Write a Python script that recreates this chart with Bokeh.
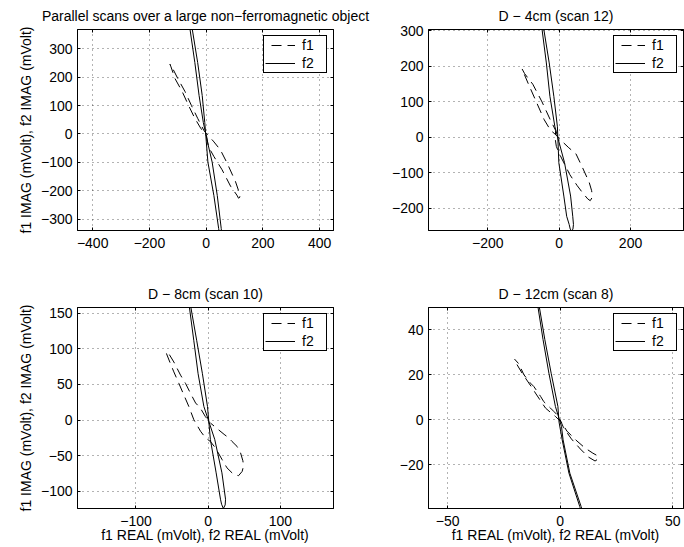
from bokeh.plotting import figure
from bokeh.layouts import row, column
from bokeh.models import (Range1d, FixedTicker, LinearAxis, CustomJSTickFormatter,
                          Legend, LegendItem)
from bokeh.embed import file_html
from bokeh.resources import INLINE

# ---------------- data ----------------
titles = ["Parallel scans over a large non\u2212ferromagnetic object",
          "D \u2212 4cm (scan 12)", "D \u2212 8cm (scan 10)", "D \u2212 12cm (scan 8)"]
x_label = "f1 REAL (mVolt), f2 REAL (mVolt)"
y_label = "f1 IMAG (mVolt), f2 IMAG (mVolt)"
series_names = ["f1", "f2"]

# panel 1 : parallel scans
p1_f1_x = [0, -18, -40, -62, -85, -110, -124, -128, -122, -100, -75, -52, -30, -8, 2, 25, 50, 74, 103, 116, 119, 114, 108, 86, 56, 27, 8, 0]
p1_f1_y = [0, 18, 55, 100, 150, 195, 236, 246, 238, 195, 150, 100, 55, 12, 0, -25, -56, -103, -167, -205, -222, -226, -215, -184, -126, -79, -45, 0]
p1_f2_x = [-70, -57, -40, -25, -10, 5, 21, 39, 53, 59, 56, 44, 27, 6, -1, -5, -14, -30, -49, -63, -70]
p1_f2_y = [450, 368, 251, 135, 40, -30, -99, -216, -333, -400, -420, -333, -216, -99, -10, 40, 135, 251, 368, 430, 450]
p1_xlim = (-453.5, 448.6)
p1_ylim = (-339.6, 367.6)
p1_xticks = [-400, -200, 0, 200, 400]
p1_yticks = [-300, -200, -100, 0, 100, 200, 300]

# panel 2 : D - 4cm
p2_f1_x = [-104, -100, -86, -64, -42, -24, -12, 5, 27, 47, 65, 84, 91, 93, 87, 80, 65, 50, 30, 15, 0, -8, -11, -10, -25, -48, -74, -97, -104]
p2_f1_y = [193, 183, 150, 100, 50, 20, 10, -8, -29, -46, -84, -126, -150, -168, -178, -173, -155, -135, -105, -75, -45, -25, -5, 20, 50, 100, 150, 180, 193]
p2_f2_x = [-56, -48, -36, -26, -12, 15, 32, 38, 40, 38.5, 35, 31, 28, 21, 13, -1, -5, -15, -28, -43, -52, -56]
p2_f2_y = [360, 304, 210, 116, 30, -71, -165, -222, -245, -258, -263, -258, -245, -222, -165, -71, 30, 116, 210, 304, 350, 360]
p2_xlim = (-366.4, 348.5)
p2_ylim = (-262.0, 304.2)
p2_xticks = [-200, 0, 200]
p2_yticks = [-200, -100, 0, 100, 200, 300]

# panel 3 : D - 8cm
p3_f1_x = [3, -4, -11, -17.5, -24.5, -31.4, -38.3, -47.6, -54.5, -58, -57.7, -53, -47.6, -40.6, -33.7, -26.8, -19.9, -10.6, -3.7, 3, 10, 19, 26, 35, 42, 47, 49, 48, 44.8, 40, 33, 28.6, 22, 10, 3]
p3_f1_y = [-4, 5, 17, 24, 37.5, 51.4, 63, 81.5, 93, 96, 93, 81, 67.6, 51.4, 35.2, 19, 0.5, -15.7, -25, -30, -39, -55, -67, -76, -78, -72, -64, -57, -46, -37, -30, -25, -20, -10, -4]
p3_f2_x = [-29, -26, -20, -14, -6, 9, 19, 24, 23.5, 21, 18.5, 17, 11, 3, -1, -8, -16, -24, -27, -29]
p3_f2_y = [185, 158, 112, 65, 19, -27, -74, -111, -119, -124, -118, -111, -74, -27, 19, 65, 112, 158, 185, 185]
p3_xlim = (-181.0, 173.5)
p3_ylim = (-124.0, 157.9)
p3_xticks = [-100, 0, 100]
p3_yticks = [-100, -50, 0, 50, 100, 150]

# panel 4 : D - 12cm
p4_f1_x = [-20.3, -19.1, -16.9, -15.4, -12.4, -11, -8, -6.5, -4.3, -2.1, 0.5, 3, 7, 11, 14.5, 16.3, 17, 15.5, 12.5, 9, 5, 1.5, -0.6, -2.8, -4.3, -7.3, -8.7, -11.7, -13.2, -16.1, -18.4, -20.3]
p4_f1_y = [27, 24.4, 20.7, 18.5, 14.1, 11.9, 7.4, 5.2, 3.3, 1.5, -1, -5, -9, -12.5, -14.8, -15.8, -17.3, -18.3, -16.5, -13, -8.5, -3.5, 1.5, 3.7, 5.2, 8.1, 10.4, 14.8, 16.3, 20, 24.9, 27]
p4_f2_x = [-12, -9.9, -7.6, -5.0, -2.1, 0.6, 1.3, 4.3, 9.3, 11.5, 11, 8.7, 3.9, 0.9, -0.5, -1.0, -4.0, -6.8, -9.3, -11.5, -12]
p4_f2_y = [60, 50.4, 35.6, 20.7, 5.9, -3, -8.9, -23.7, -38.5, -46, -46, -38.5, -23.7, -8.9, -1, 5.9, 20.7, 35.6, 50.4, 58, 60]
p4_xlim = (-58.5, 54.8)
p4_ylim = (-39.4, 49.9)
p4_xticks = [-50, 0, 50]
p4_yticks = [-20, 0, 20, 40]

# ---------------- styling helpers ----------------
FONT = "Liberation Sans"
FS = "14px"
MINUS_FMT = "return tick < 0 ? '\\u2212' + String(-tick) : String(tick);"


def style_axis(ax, ticks, labels=True):
    ax.ticker = FixedTicker(ticks=ticks)
    ax.axis_line_color = "black"
    ax.axis_line_width = 1
    ax.major_tick_line_color = "black"
    ax.major_tick_in = 3
    ax.major_tick_out = 0
    ax.minor_tick_line_color = None
    ax.major_label_text_font = FONT
    ax.major_label_text_color = "black"
    ax.axis_label_text_font = FONT
    ax.axis_label_text_font_size = FS
    ax.axis_label_text_font_style = "normal"
    ax.axis_label_text_color = "black"
    if labels:
        ax.major_label_text_font_size = FS
        ax.major_label_standoff = 5
        ax.formatter = CustomJSTickFormatter(code=MINUS_FMT)
    else:
        ax.major_label_text_font_size = "0px"
        ax.major_label_standoff = 0
        ax.formatter = CustomJSTickFormatter(code="return '';")


def make_panel(f1x, f1y, f2x, f2y, xlim, ylim, xticks, yticks, title,
               width, height, borders, xlab=None, ylab=None):
    left, right, top, bottom = borders
    p = figure(width=width, height=height, output_backend="svg", toolbar_location=None,
               x_range=Range1d(*xlim), y_range=Range1d(*ylim),
               min_border_left=left, min_border_right=right,
               min_border_top=top, min_border_bottom=bottom)
    p.title.text = title
    p.title.align = "center"
    p.title.text_font = FONT
    p.title.text_font_size = FS
    p.title.text_font_style = "normal"
    p.title.text_color = "black"
    p.title.standoff = 11
    p.outline_line_color = "black"
    p.outline_line_width = 1
    p.outline_line_alpha = 1
    p.background_fill_color = "white"
    p.border_fill_color = "white"

    xa = p.xaxis[0]
    ya = p.yaxis[0]
    style_axis(xa, xticks)
    style_axis(ya, yticks)
    xa.major_label_standoff = 7
    if xlab:
        xa.axis_label = xlab
        xa.axis_label_standoff = -2
    if ylab:
        ya.axis_label = ylab
        ya.axis_label_standoff = 4

    top_ax = LinearAxis()
    style_axis(top_ax, xticks, labels=False)
    p.add_layout(top_ax, "above")
    right_ax = LinearAxis()
    style_axis(right_ax, yticks, labels=False)
    p.add_layout(right_ax, "right")

    for g, t in ((p.xgrid[0], xticks), (p.ygrid[0], yticks)):
        g.ticker = FixedTicker(ticks=t)
        g.grid_line_color = "black"
        g.grid_line_alpha = 0.6
        g.grid_line_dash = "1 4"
        g.grid_line_width = 1

    r1 = p.line(f1x, f1y, line_color="black", line_width=1,
                line_dash="10 6", line_dash_offset=10)
    r2 = p.line(f2x, f2y, line_color="black", line_width=1)
    leg = Legend(items=[LegendItem(label=series_names[0], renderers=[r1]),
                        LegendItem(label=series_names[1], renderers=[r2])],
                 location="top_right", margin=6, padding=1, spacing=2,
                 glyph_width=30, glyph_height=16, label_height=16, label_width=23,
                 label_standoff=7, label_text_font=FONT, label_text_font_size=FS,
                 label_text_color="black",
                 border_line_color="black", border_line_width=1, border_line_alpha=1,
                 background_fill_color="white", background_fill_alpha=1)
    p.add_layout(leg)
    return p


p1 = make_panel(p1_f1_x, p1_f1_y, p1_f2_x, p1_f2_y, p1_xlim, p1_ylim, p1_xticks, p1_yticks,
                titles[0], 380, 270, (77, 47, 29, 39), ylab=y_label)
p2 = make_panel(p2_f1_x, p2_f1_y, p2_f2_x, p2_f2_y, p2_xlim, p2_ylim, p2_xticks, p2_yticks,
                titles[1], 304, 270, (48, 1, 29, 40))
p3 = make_panel(p3_f1_x, p3_f1_y, p3_f2_x, p3_f2_y, p3_xlim, p3_ylim, p3_xticks, p3_yticks,
                titles[2], 380, 277, (77, 47, 35, 39), xlab=x_label, ylab=y_label)
p4 = make_panel(p4_f1_x, p4_f1_y, p4_f2_x, p4_f2_y, p4_xlim, p4_ylim, p4_xticks, p4_yticks,
                titles[3], 304, 277, (48, 1, 37, 39), xlab=x_label)

layout = column(row(p1, p2), row(p3, p4))

with open("out.html", "w") as f:
    f.write(file_html(layout, INLINE))
